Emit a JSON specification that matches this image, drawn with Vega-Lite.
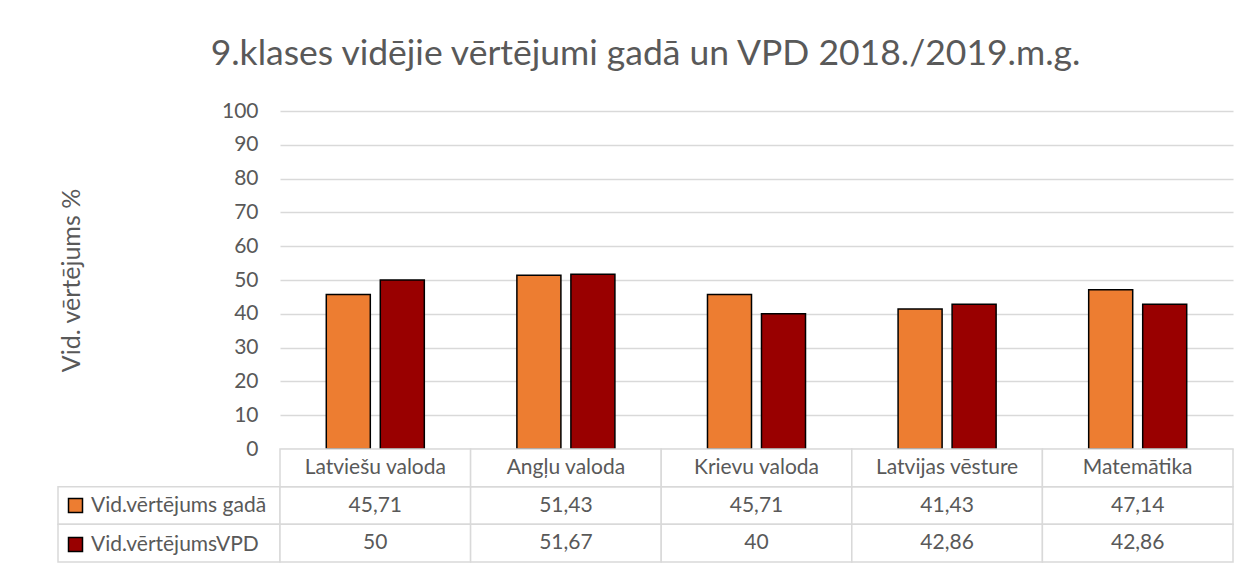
{
  "$schema": "https://vega.github.io/schema/vega-lite/v6.json",
  "padding": {"left": 57, "top": 36, "right": 10, "bottom": 5},
  "background": "white",
  "title": {"text": "9.klases vidējie vērtējumi gadā un VPD 2018./2019.m.g.", "fontSize": 35.5, "font": "Lato", "fontWeight": "normal", "color": "#595959", "anchor": "middle", "offset": 28},
  "config": {
    "view": {"stroke": null},
    "font": "Lato",
    "locale": {"number": {"decimal": ",", "thousands": " ", "grouping": [3], "currency": ["", " €"]}}
  },
  "datasets": {
    "scores": [
      {"subject": "Latviešu valoda", "series": "Vid.vērtējums gadā", "value": 45.71},
      {"subject": "Latviešu valoda", "series": "Vid.vērtējumsVPD", "value": 50},
      {"subject": "Angļu valoda", "series": "Vid.vērtējums gadā", "value": 51.43},
      {"subject": "Angļu valoda", "series": "Vid.vērtējumsVPD", "value": 51.67},
      {"subject": "Krievu valoda", "series": "Vid.vērtējums gadā", "value": 45.71},
      {"subject": "Krievu valoda", "series": "Vid.vērtējumsVPD", "value": 40},
      {"subject": "Latvijas vēsture", "series": "Vid.vērtējums gadā", "value": 41.43},
      {"subject": "Latvijas vēsture", "series": "Vid.vērtējumsVPD", "value": 42.86},
      {"subject": "Matemātika", "series": "Vid.vērtējums gadā", "value": 47.14},
      {"subject": "Matemātika", "series": "Vid.vērtējumsVPD", "value": 42.86}
    ]
  },
  "columns": 2,
  "spacing": 0,
  "bounds": "flush",
  "resolve": {"legend": {"color": "independent"}},
  "concat": [
    {
      "width": 222, "height": 338,
      "data": {"values": []},
      "mark": {"type": "text", "text": ""},
      "encoding": {}
    },
    {
      "width": 953, "height": 338,
      "data": {"name": "scores"},
      "mark": {"type": "bar", "stroke": "black", "strokeWidth": 1.5},
      "encoding": {
        "x": {"field": "subject", "type": "nominal", "scale": {"domain": ["Latviešu valoda", "Angļu valoda", "Krievu valoda", "Latvijas vēsture", "Matemātika"], "paddingInner": 0, "paddingOuter": 0}, "axis": null},
        "xOffset": {"field": "series", "type": "nominal", "scale": {"domain": ["Vid.vērtējums gadā", "Vid.vērtējumsVPD"], "paddingInner": 0.185, "paddingOuter": 0.857}},
        "y": {"field": "value", "type": "quantitative", "scale": {"domain": [0, 100], "nice": false},
          "axis": {"values": [0, 10, 20, 30, 40, 50, 60, 70, 80, 90, 100], "title": "Vid. vērtējums %", "titleFontSize": 25, "titleFontWeight": "normal", "titleColor": "#595959", "titleFont": "Lato", "titlePadding": 137, "labelFontSize": 21, "labelColor": "#595959", "labelFont": "Lato", "labelPadding": 22, "ticks": false, "domain": false, "gridColor": "#d9d9d9", "gridWidth": 1.5}},
        "color": {"field": "series", "type": "nominal", "scale": {"domain": ["Vid.vērtējums gadā", "Vid.vērtējumsVPD"], "range": ["#ED7D31", "#990000"]},
          "legend": {"orient": "none", "legendX": -215, "legendY": 384, "title": null, "symbolType": "square", "symbolSize": 196, "symbolStrokeColor": "black", "symbolStrokeWidth": 1.5, "labelFontSize": 21, "labelColor": "#595959", "labelFont": "Lato", "labelLimit": 400, "rowPadding": 17, "labelOffset": 5, "padding": 0}}
      }
    },
    {
      "width": 222, "height": 113,
      "data": {"name": "scores"},
      "transform": [{"filter": "datum.subject == 'Matemātika'"}],
      "mark": {"type": "rect", "fill": "transparent", "stroke": "#d9d9d9", "strokeWidth": 1.5},
      "encoding": {
        "y": {"field": "series", "type": "nominal", "scale": {"domain": ["hdr", "Vid.vērtējums gadā", "Vid.vērtējumsVPD"], "paddingInner": 0, "paddingOuter": 0}, "axis": null}
      }
    },
    {
      "width": 953, "height": 113,
      "data": {"name": "scores"},
      "encoding": {
        "x": {"field": "subject", "type": "nominal", "scale": {"domain": ["Latviešu valoda", "Angļu valoda", "Krievu valoda", "Latvijas vēsture", "Matemātika"], "paddingInner": 0, "paddingOuter": 0}, "axis": null}
      },
      "layer": [
        {
          "mark": {"type": "rect", "fill": "white", "stroke": "#d9d9d9", "strokeWidth": 1.5},
          "encoding": {"y": {"field": "series", "type": "nominal", "scale": {"domain": ["hdr", "Vid.vērtējums gadā", "Vid.vērtējumsVPD"], "paddingInner": 0, "paddingOuter": 0}, "axis": null}}
        },
        {
          "transform": [{"filter": "datum.series == 'Vid.vērtējums gadā'"}],
          "mark": {"type": "rect", "fill": "white", "stroke": "#d9d9d9", "strokeWidth": 1.5},
          "encoding": {"y": {"datum": "hdr", "type": "nominal"}}
        },
        {
          "mark": {"type": "text", "fontSize": 21, "color": "#595959", "font": "Lato"},
          "encoding": {
            "y": {"field": "series", "type": "nominal"},
            "text": {"field": "value", "type": "quantitative", "format": ".2~f"}
          }
        },
        {
          "transform": [{"filter": "datum.series == 'Vid.vērtējums gadā'"}],
          "mark": {"type": "text", "fontSize": 21, "color": "#595959", "font": "Lato"},
          "encoding": {
            "y": {"datum": "hdr", "type": "nominal"},
            "text": {"field": "subject", "type": "nominal"}
          }
        }
      ]
    }
  ]
}
